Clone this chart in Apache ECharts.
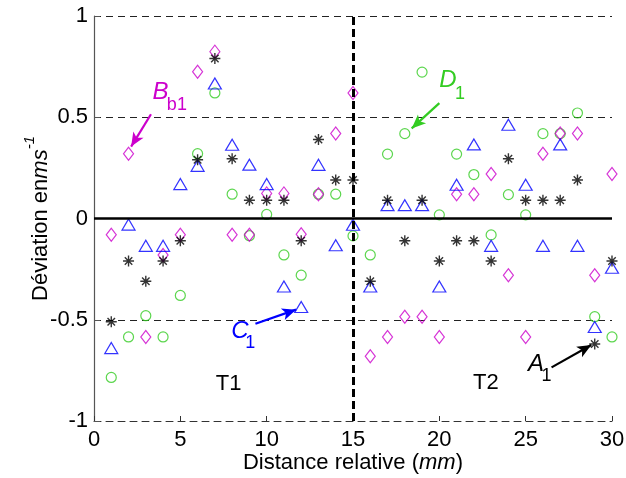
<!DOCTYPE html>
<html><head><meta charset="utf-8">
<script src="https://cdn.jsdelivr.net/npm/echarts@6/dist/echarts.min.js"></script>
<style>html,body{margin:0;padding:0;background:#fff}#c{width:626px;height:478px}</style>
</head><body><div id="c"></div>
<script>
// ---- data ----
const distances = [1,2,3,4,5,6,7,8,9,10,11,12,13,14,15,16,17,18,19,20,21,22,23,24,25,26,27,28,29,30];
const seriesA1 = [-0.51,-0.21,-0.31,-0.21,-0.11,0.29,0.79,0.295,0.09,0.09,0.09,-0.11,0.39,0.19,0.19,-0.31,0.09,-0.11,0.09,-0.21,-0.11,-0.11,-0.21,0.295,0.09,0.09,0.09,0.19,-0.62,-0.21];
const seriesBb1 = [-0.08,0.32,-0.585,-0.18,-0.08,0.725,0.824,-0.08,-0.08,0.124,0.124,-0.078,0.12,0.42,0.62,-0.68,-0.585,-0.485,-0.485,-0.585,0.12,0.12,0.22,-0.28,-0.585,0.32,0.42,0.42,-0.28,0.22];
const seriesC1 = [-0.64,-0.03,-0.135,-0.135,0.17,0.26,0.667,0.364,0.266,0.17,-0.336,-0.437,0.265,-0.132,-0.031,-0.336,0.066,0.066,0.066,-0.336,0.167,0.366,-0.135,0.463,0.167,-0.135,0.366,-0.135,-0.536,-0.243];
const seriesD1 = [-0.785,-0.585,-0.48,-0.585,-0.38,0.32,0.62,0.12,-0.085,0.02,-0.18,-0.28,0.12,0.12,-0.086,-0.18,0.318,0.419,0.723,0.018,0.318,0.217,-0.081,0.118,0.018,0.419,0.419,0.521,-0.485,-0.585];
const xTicks = [0,5,10,15,20,25,30];
const yTicks = [-1,-0.5,0,0.5,1];
const separatorX = 15;
const zoneLabels = ['T1','T2'];
const zoneLabelPos = [[7.8,-0.815],[22.7,-0.81]];
// annotations: main letter, subscript, colour, letter pos, subscript pos, arrow tail, arrow tip
const annMain = ['B','D','C','A'];
const annSub = ['b1','1','1','1'];
const annColor = ['#cc00cc','#33cc22','#0000ff','#000000'];
const annMainPos = [[3.85,0.625],[20.5,0.683],[8.45,-0.555],[25.6,-0.72]];
const annSubPos = [[4.8,0.56],[21.2,0.615],[9.05,-0.615],[26.2,-0.78]];
const arrowTail = [[3.3,0.515],[20.0,0.57],[9.35,-0.52],[26.5,-0.735]];
const arrowTip = [[2.15,0.355],[18.4,0.445],[11.7,-0.45],[28.8,-0.625]];

const zip = v => distances.map((x,i)=>[x,v[i]]);
const FONT = '"Liberation Sans", Arial, sans-serif';
const starPath = 'path://M5,0L5,10M0,5L10,5M1.6,1.6L8.4,8.4M1.6,8.4L8.4,1.6';

const chart = echarts.init(document.getElementById('c'), null, {renderer:'canvas'});

function arrowItem(i){
  return [
    {coord: arrowTail[i], symbol:'none'},
    {coord: arrowTip[i], symbol:'arrow', symbolSize:[9,14], lineStyle:{color:annColor[i], width:2.2, type:'solid'}, itemStyle:{color:annColor[i]}}
  ];
}

const option = {
  animation:false,
  backgroundColor:'#fff',
  grid:{left:94, right:14, top:16, bottom:57, containLabel:false, outerBoundsMode:'none'},
  xAxis:{
    type:'value', min:0, max:30, interval:5,
    axisLine:{show:true, onZero:false, lineStyle:{color:'#333', width:1, type:[7,5]}},
    axisTick:{show:true, inside:true, length:5, lineStyle:{color:'#333'}},
    axisLabel:{color:'#000', fontSize:22, fontFamily:FONT, margin:8},
    splitLine:{show:false},
    name:'{n|Distance relative (}{i|mm}{n|)}',
    nameLocation:'middle', nameGap:31, nameMoveOverlap:false,
    nameTextStyle:{rich:{
      n:{fontSize:22, fontFamily:FONT, color:'#000'},
      i:{fontSize:22, fontFamily:FONT, fontStyle:'italic', color:'#000'}
    }}
  },
  yAxis:{
    type:'value', min:-1, max:1, interval:0.5,
    axisLine:{show:true, onZero:false, lineStyle:{color:'#555', width:1.2}},
    axisTick:{show:true, inside:true, length:6, lineStyle:{color:'#555'}},
    axisLabel:{color:'#000', fontSize:22, fontFamily:FONT, margin:6},
    splitLine:{show:true, lineStyle:{color:'#222', width:1, type:[7,5]}},
    name:'{n|Déviation en}{i|ms}{s|-1}',
    nameLocation:'middle', nameGap:42, nameRotate:90, nameMoveOverlap:false,
    nameTextStyle:{rich:{
      n:{fontSize:22, fontFamily:FONT, color:'#000', lineHeight:30, verticalAlign:'bottom'},
      i:{fontSize:22, fontFamily:FONT, fontStyle:'italic', color:'#000', lineHeight:30, verticalAlign:'bottom'},
      s:{fontSize:15, fontFamily:FONT, fontStyle:'italic', color:'#000', lineHeight:15, verticalAlign:'top'}
    }}
  },
  series:[
    {name:'D1', type:'scatter', data:zip(seriesD1), symbol:'circle', symbolSize:10,
     itemStyle:{color:'rgba(0,0,0,0)', borderColor:'#33cc22', borderWidth:1.2},
     markLine:{silent:true, animation:false, label:{show:false}, data:[arrowItem(1)]}},
    {name:'Bb1', type:'scatter', data:zip(seriesBb1), symbol:'diamond', symbolSize:[10,13],
     itemStyle:{color:'rgba(0,0,0,0)', borderColor:'#cc00cc', borderWidth:1.2},
     markLine:{silent:true, animation:false, label:{show:false}, data:[arrowItem(0)]}},
    {name:'C1', type:'scatter', data:zip(seriesC1), symbol:'triangle', symbolSize:[13,11],
     itemStyle:{color:'rgba(0,0,0,0)', borderColor:'#0000ff', borderWidth:1.2},
     markLine:{silent:true, animation:false, label:{show:false}, data:[arrowItem(2)]}},
    {name:'A1', type:'scatter', data:zip(seriesA1), symbol:starPath, symbolSize:11,
     itemStyle:{color:'rgba(0,0,0,0)', borderColor:'#000', borderWidth:1.4},
     markLine:{silent:true, animation:false, label:{show:false}, symbol:['none','none'],
       data:[
         {yAxis:0, lineStyle:{color:'#000', width:2.5, type:'solid'}},
         {xAxis:separatorX, lineStyle:{color:'#000', width:3, type:[8,4]}},
         arrowItem(3)
       ]}}
  ]
};
chart.setOption(option);

const g = [];
const px = p => chart.convertToPixel({gridIndex:0}, p);
annMain.forEach((m,i)=>{
  const a = px(annMainPos[i]), b = px(annSubPos[i]);
  g.push({type:'text', x:a[0], y:a[1], style:{text:m, fill:annColor[i], font:'italic 24px '+FONT, align:'center', verticalAlign:'middle'}});
  g.push({type:'text', x:b[0], y:b[1], style:{text:annSub[i], fill:annColor[i], font:'18px '+FONT, align:'center', verticalAlign:'middle'}});
});
zoneLabels.forEach((t,i)=>{
  const a = px(zoneLabelPos[i]);
  g.push({type:'text', x:a[0], y:a[1], style:{text:t, fill:'#000', font:'22px '+FONT, align:'center', verticalAlign:'middle'}});
});
chart.setOption({graphic:g});
</script></body></html>
